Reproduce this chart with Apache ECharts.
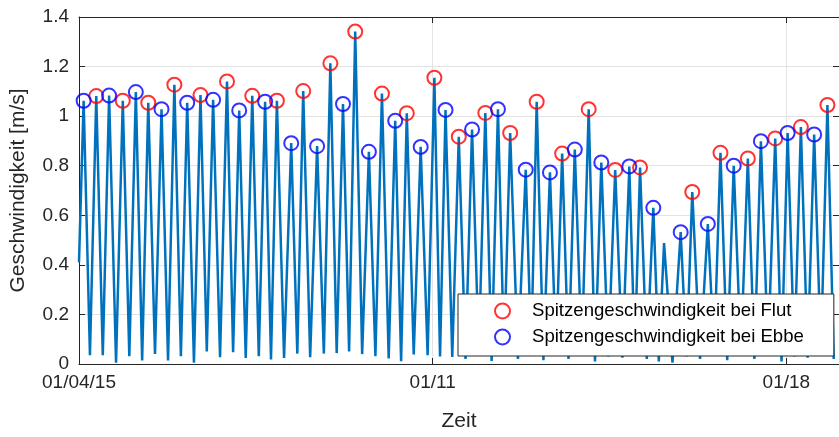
<!DOCTYPE html>
<html>
<head>
<meta charset="utf-8">
<script src="https://cdn.jsdelivr.net/npm/echarts@6/dist/echarts.min.js"></script>
<style>
html,body{margin:0;padding:0;background:#fff;}
#chart{width:839px;height:437px;}
</style>
</head>
<body>
<div id="chart"></div>
<script>
// Time axis: hours since 01/04/15 00:00
const xTickHours = [0, 168, 336];
const xTickLabels = ['01/04/15', '01/11', '01/18'];
const yTicks = [0, 0.2, 0.4, 0.6, 0.8, 1, 1.2, 1.4];

const startPoint = [0, 0.41];

const peakHours = [2.2, 8.2, 14.3, 20.8, 27.0, 32.9, 39.2, 45.3, 51.4, 57.7,
  63.7, 70.3, 76.1, 82.3, 88.4, 94.0, 100.8, 106.5, 113.1, 119.4,
  125.4, 131.2, 137.7, 143.9, 150.2, 155.7, 162.3, 168.8, 174.1, 180.4,
  186.7, 193.0, 199.0, 204.8, 212.2, 217.4, 223.7, 229.5, 235.5, 242.1,
  248.1, 254.7, 261.4, 266.5, 272.8, 277.9, 285.8, 291.3, 298.7, 304.7,
  311.0, 317.7, 323.9, 330.7, 336.6, 342.9, 349.2, 355.5];
const peakValues = [1.062, 1.081, 1.083, 1.062, 1.097, 1.054, 1.028, 1.127, 1.054, 1.085,
  1.066, 1.140, 1.023, 1.082, 1.058, 1.062, 0.891, 1.101, 0.879, 1.213,
  1.049, 1.341, 0.856, 1.091, 0.981, 1.012, 0.876, 1.155, 1.025, 0.917,
  0.946, 1.013, 1.028, 0.932, 0.784, 1.058, 0.773, 0.849, 0.865, 1.028,
  0.813, 0.783, 0.797, 0.793, 0.630, 0.488, 0.532, 0.694, 0.565, 0.852,
  0.800, 0.829, 0.899, 0.910, 0.932, 0.956, 0.926, 1.045];
// E = Ebbe, F = Flut, '-' = not marked
const peakTypes = ['E','F','E','F','E','F','E','F','E','F',
  'E','F','E','F','E','F','E','F','E','F',
  'E','F','E','F','E','F','E','F','E','F',
  'E','F','E','F','E','F','E','F','E','F',
  'E','F','E','F','E','-','E','F','E','F',
  'E','F','E','F','E','F','E','F'];

const troughHours = [5.2, 11.3, 17.6, 23.9, 30.0, 36.1, 42.3, 48.4, 54.6, 60.7,
  67.0, 73.2, 79.2, 85.4, 91.2, 97.4, 103.7, 109.8, 116.3, 122.4,
  128.3, 134.5, 140.8, 147.1, 153.0, 159.0, 165.6, 171.5, 177.3, 183.6,
  189.9, 196.0, 201.9, 208.5, 214.8, 220.6, 226.6, 232.5, 238.8, 245.1,
  251.4, 258.1, 264.0, 269.7, 275.4, 281.9, 288.6, 295.0, 301.7, 307.9,
  314.4, 320.8, 327.3, 333.7, 339.8, 346.1, 352.4, 358.5];
const troughValues = [0.035, 0.035, 0.005, 0.031, 0.014, 0.040, 0.014, 0.031, 0.005, 0.051,
  0.027, 0.048, 0.024, 0.031, 0.018, 0.024, 0.042, 0.027, 0.042, 0.044,
  0.051, 0.040, 0.031, 0.022, 0.011, 0.038, 0.035, 0.030, 0.028, 0.020,
  0.040, 0.012, 0.035, 0.020, 0.042, 0.015, 0.032, 0.020, 0.040, 0.010,
  0.030, 0.025, 0.040, 0.020, 0.010, 0.005, 0.030, 0.020, 0.040, 0.015,
  0.035, 0.020, 0.040, 0.010, 0.030, 0.025, 0.040, 0.020];

const seriesNames = ['Spitzengeschwindigkeit bei Flut', 'Spitzengeschwindigkeit bei Ebbe'];

// Build the line from peaks and troughs in time order
const linePts = [startPoint];
peakHours.forEach((h, i) => linePts.push([h, peakValues[i]]));
troughHours.forEach((h, i) => linePts.push([h, troughValues[i]]));
linePts.sort((a, b) => a[0] - b[0]);

const flutPts = [], ebbePts = [];
peakHours.forEach((h, i) => {
  if (peakTypes[i] === 'F') flutPts.push([h, peakValues[i]]);
  else if (peakTypes[i] === 'E') ebbePts.push([h, peakValues[i]]);
});

const FONT = '"Liberation Sans", Arial, Helvetica, sans-serif';
const AX = '#262626';
const GRID = '#e3e3e3';

const chart = echarts.init(document.getElementById('chart'), null, {renderer: 'canvas'});
const xLabel = v => {
  const i = xTickHours.indexOf(Math.round(v));
  return i >= 0 ? xTickLabels[i] : '';
};
const yLabel = v => String(Math.round(v * 10) / 10);

chart.setOption({
  animation: false,
  backgroundColor: '#fff',
  grid: {left: 76, top: 17, right: -2, bottom: 67.5, containLabel: false},
  xAxis: [{
    type: 'value', min: 0, max: 361, interval: 168,
    name: 'Zeit', nameLocation: 'middle', nameGap: 47,
    nameTextStyle: {fontFamily: FONT, fontSize: 21, color: AX},
    axisLine: {show: true, lineStyle: {color: AX, width: 1}},
    axisTick: {show: true, inside: true, length: 6, lineStyle: {color: AX}},
    axisLabel: {formatter: xLabel, fontFamily: FONT, fontSize: 19, color: AX, margin: 9, showMaxLabel: false},
    splitLine: {show: true, lineStyle: {color: GRID, width: 1}}
  }, {
    type: 'value', min: 0, max: 361, interval: 168, position: 'top',
    axisLine: {show: true, onZero: false, lineStyle: {color: AX, width: 1}},
    axisTick: {show: true, inside: true, length: 6, lineStyle: {color: AX}},
    axisLabel: {show: false}, splitLine: {show: false}
  }],
  yAxis: [{
    type: 'value', min: 0, max: 1.4, interval: 0.2,
    name: 'Geschwindigkeit [m/s]', nameLocation: 'middle', nameGap: 50,
    nameTextStyle: {fontFamily: FONT, fontSize: 21, color: AX},
    axisLine: {show: true, lineStyle: {color: AX, width: 1}},
    axisTick: {show: true, inside: true, length: 6, lineStyle: {color: AX}},
    axisLabel: {formatter: yLabel, fontFamily: FONT, fontSize: 19, color: AX, margin: 10},
    splitLine: {show: true, lineStyle: {color: GRID, width: 1}}
  }, {
    type: 'value', min: 0, max: 1.4, interval: 0.2, position: 'right',
    axisLine: {show: true, onZero: false, lineStyle: {color: AX, width: 1}},
    axisTick: {show: true, inside: true, length: 6, lineStyle: {color: AX}},
    axisLabel: {show: false}, splitLine: {show: false}
  }],
  legend: {
    orient: 'vertical', left: 458, top: 294,
    backgroundColor: '#fff', borderColor: AX, borderWidth: 1, borderRadius: 0,
    padding: [7, 30, 9, 36], itemGap: 6, itemWidth: 15, itemHeight: 15,
    textStyle: {fontFamily: FONT, fontSize: 18.6, color: '#000', lineHeight: 20, padding: [0, 0, 0, 17]},
    data: [
      {name: seriesNames[0], icon: 'circle', itemStyle: {color: 'rgba(0,0,0,0)', borderColor: '#ff0000', borderWidth: 2}},
      {name: seriesNames[1], icon: 'circle', itemStyle: {color: 'rgba(0,0,0,0)', borderColor: '#0000ff', borderWidth: 2}}
    ]
  },
  series: [{
    type: 'line', name: 'v', data: linePts, showSymbol: false, symbol: 'none',
    lineStyle: {color: '#0072BD', width: 2.5}, z: 2
  }, {
    type: 'scatter', name: seriesNames[0], data: flutPts, symbol: 'circle', symbolSize: 14,
    itemStyle: {color: 'rgba(0,0,0,0)', borderColor: '#ff0000', borderWidth: 2}, z: 3
  }, {
    type: 'scatter', name: seriesNames[1], data: ebbePts, symbol: 'circle', symbolSize: 14,
    itemStyle: {color: 'rgba(0,0,0,0)', borderColor: '#0000ff', borderWidth: 2}, z: 3
  }]
});
</script>
</body>
</html>
